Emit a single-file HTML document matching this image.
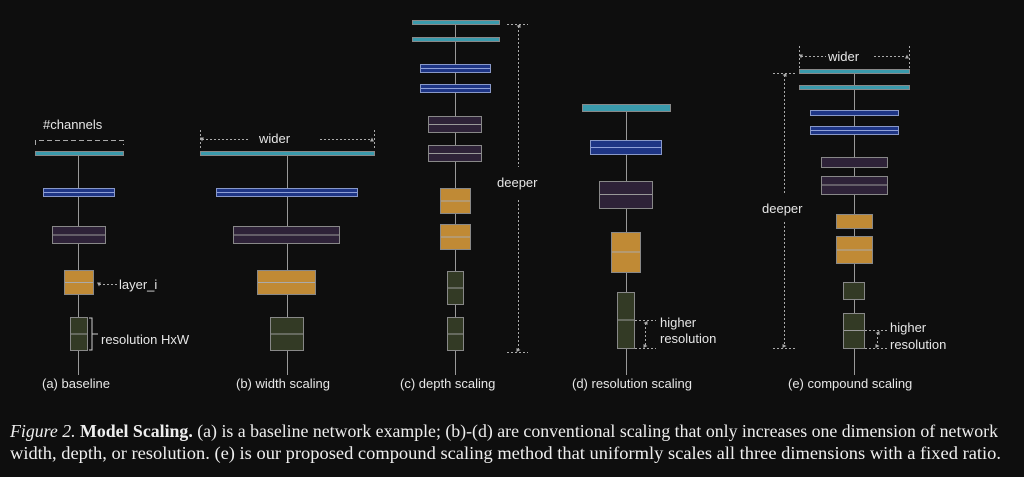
<!DOCTYPE html>
<html><head><meta charset="utf-8"><style>
html,body{margin:0;padding:0;background:#0e0e0e;width:1024px;height:477px;overflow:hidden}
svg{display:block}
.l{font-family:"Liberation Sans",sans-serif;font-size:13px;fill:#e6e6e6}
.c{font-family:"Liberation Serif",serif;font-size:17.5px;fill:#eeeeee}
</style></head><body>
<svg width="1024" height="477" viewBox="0 0 1024 477" xmlns="http://www.w3.org/2000/svg">
<defs>
<marker id="ah" viewBox="0 0 6 6" refX="3" refY="1" markerWidth="4" markerHeight="4" orient="auto-start-reverse"><path d="M0,6 L3,0 L6,6 z" fill="#aaa"/></marker>
<marker id="dh" viewBox="0 0 6 6" refX="3" refY="3" markerWidth="4" markerHeight="4" orient="auto-start-reverse"><path d="M0,6 L3,0 L6,6 z" fill="#aaa"/></marker>
</defs>
<g stroke="#999" stroke-width="1">
<!-- vertical spines -->
<line x1="78.5" y1="375" x2="78.5" y2="156"/>
<line x1="287.5" y1="375" x2="287.5" y2="156"/>
<line x1="455.5" y1="375" x2="455.5" y2="25"/>
<line x1="626.5" y1="375" x2="626.5" y2="111"/>
<line x1="854.5" y1="375" x2="854.5" y2="74"/>
</g>
<g stroke="#888" stroke-width="1">
<!-- (a) -->
<rect x="35.5" y="151.5" width="88" height="4" fill="#3a9aac"/>
<rect x="43.5" y="188.5" width="71" height="8" fill="#1e3585" stroke="#8898c8"/><line x1="44" y1="192.5" x2="114" y2="192.5" stroke="#8fa0d8"/>
<rect x="52.5" y="226.5" width="53" height="17" fill="#2e2238"/><line x1="53" y1="235" x2="105" y2="235" stroke="#999"/>
<rect x="64.5" y="270.5" width="29" height="24" fill="#c08a35"/><line x1="65" y1="282.5" x2="93" y2="282.5" stroke="#aaa"/>
<rect x="70.5" y="317.5" width="17" height="33" fill="#333a25"/><line x1="71" y1="334" x2="87" y2="334" stroke="#999"/>
<!-- (b) -->
<rect x="200.5" y="151.5" width="174" height="4" fill="#3a9aac"/>
<rect x="216.5" y="188.5" width="141" height="8" fill="#1e3585" stroke="#8898c8"/><line x1="217" y1="192.5" x2="357" y2="192.5" stroke="#8fa0d8"/>
<rect x="233.5" y="226.5" width="106" height="17" fill="#2e2238"/><line x1="234" y1="235" x2="339" y2="235" stroke="#999"/>
<rect x="257.5" y="270.5" width="58" height="24" fill="#c08a35"/><line x1="258" y1="282.5" x2="315" y2="282.5" stroke="#aaa"/>
<rect x="270.5" y="317.5" width="33" height="33" fill="#333a25"/><line x1="271" y1="334" x2="303" y2="334" stroke="#999"/>
<!-- (c) -->
<rect x="412.5" y="20.5" width="87" height="4" fill="#3a9aac"/>
<rect x="412.5" y="37.5" width="87" height="4" fill="#3a9aac"/>
<rect x="420.5" y="64.5" width="70" height="8" fill="#1e3585" stroke="#8898c8"/><line x1="421" y1="68.5" x2="490" y2="68.5" stroke="#8fa0d8"/>
<rect x="420.5" y="84.5" width="70" height="8" fill="#1e3585" stroke="#8898c8"/><line x1="421" y1="88.5" x2="490" y2="88.5" stroke="#8fa0d8"/>
<rect x="428.5" y="116.5" width="53" height="16" fill="#2e2238"/><line x1="429" y1="124.5" x2="481" y2="124.5" stroke="#999"/>
<rect x="428.5" y="145.5" width="53" height="16" fill="#2e2238"/><line x1="429" y1="153.5" x2="481" y2="153.5" stroke="#999"/>
<rect x="440.5" y="188.5" width="30" height="25" fill="#c08a35"/><line x1="441" y1="201" x2="470" y2="201" stroke="#aaa"/>
<rect x="440.5" y="224.5" width="30" height="25" fill="#c08a35"/><line x1="441" y1="237" x2="470" y2="237" stroke="#aaa"/>
<rect x="447.5" y="271.5" width="16" height="33" fill="#333a25"/><line x1="448" y1="288" x2="463" y2="288" stroke="#999"/>
<rect x="447.5" y="317.5" width="16" height="33" fill="#333a25"/><line x1="448" y1="334" x2="463" y2="334" stroke="#999"/>
<!-- (d) -->
<rect x="582.5" y="104.5" width="88" height="7" fill="#3a9aac"/>
<rect x="590.5" y="140.5" width="71" height="14" fill="#1e3585" stroke="#8898c8"/><line x1="591" y1="147.5" x2="661" y2="147.5" stroke="#8fa0d8"/>
<rect x="599.5" y="181.5" width="53" height="27" fill="#2e2238"/><line x1="600" y1="194.5" x2="652" y2="194.5" stroke="#999"/>
<rect x="611.5" y="232.5" width="29" height="40" fill="#c08a35"/><line x1="612" y1="252" x2="640" y2="252" stroke="#aaa"/>
<rect x="617.5" y="292.5" width="17" height="56" fill="#333a25"/><line x1="618" y1="320" x2="634" y2="320" stroke="#999"/>
<!-- (e) -->
<rect x="799.5" y="69.5" width="110" height="4" fill="#3a9aac"/>
<rect x="799.5" y="85.5" width="110" height="4" fill="#3a9aac"/>
<rect x="810.5" y="110.5" width="88" height="5" fill="#1e3585" stroke="#8898c8"/>
<rect x="810.5" y="126.5" width="88" height="8" fill="#1e3585" stroke="#8898c8"/><line x1="811" y1="130.5" x2="898" y2="130.5" stroke="#8fa0d8"/>
<rect x="821.5" y="157.5" width="66" height="10" fill="#2e2238"/>
<rect x="821.5" y="176.5" width="66" height="18" fill="#2e2238"/><line x1="822" y1="185" x2="887" y2="185" stroke="#999"/>
<rect x="836.5" y="214.5" width="36" height="14" fill="#c08a35"/>
<rect x="836.5" y="236.5" width="36" height="27" fill="#c08a35"/><line x1="837" y1="250" x2="872" y2="250" stroke="#aaa"/>
<rect x="843.5" y="282.5" width="21" height="17" fill="#333a25"/>
<rect x="843.5" y="313.5" width="21" height="35" fill="#333a25"/><line x1="844" y1="330.5" x2="864" y2="330.5" stroke="#999"/>
</g>
<!-- dashed annotations -->
<g stroke="#aaa" stroke-width="1" stroke-dasharray="2,2" fill="none">
<!-- a channels bracket -->
<path d="M35.5,145 V140.5 H123.5 V145" stroke-dasharray="5,3"/>
<!-- a layer_i -->
<line x1="99" y1="284.5" x2="117" y2="284.5" marker-start="url(#dh)"/>
<!-- b wider -->
<line x1="200.5" y1="130" x2="200.5" y2="150"/><line x1="374.5" y1="130" x2="374.5" y2="150"/>
<line x1="202" y1="139.5" x2="250" y2="139.5" marker-start="url(#dh)"/>
<line x1="320" y1="139.5" x2="372" y2="139.5" marker-end="url(#dh)"/>
<!-- c deeper -->
<line x1="507" y1="24.5" x2="528" y2="24.5"/><line x1="507" y1="352.5" x2="528" y2="352.5"/>
<line x1="518.5" y1="26" x2="518.5" y2="167" marker-start="url(#dh)"/>
<line x1="518.5" y1="200" x2="518.5" y2="350" marker-end="url(#dh)"/>
<!-- d higher res -->
<line x1="635" y1="320.5" x2="656" y2="320.5"/><line x1="635" y1="348.5" x2="656" y2="348.5"/>
<line x1="645.5" y1="323" x2="645.5" y2="346" marker-start="url(#dh)" marker-end="url(#dh)"/>
<!-- e wider -->
<line x1="799.5" y1="46" x2="799.5" y2="68"/><line x1="909.5" y1="46" x2="909.5" y2="68"/>
<line x1="801" y1="56.5" x2="826" y2="56.5" marker-start="url(#dh)"/>
<line x1="874" y1="56.5" x2="907" y2="56.5" marker-end="url(#dh)"/>
<!-- e deeper -->
<line x1="773" y1="73.5" x2="795" y2="73.5"/><line x1="773" y1="348.5" x2="795" y2="348.5"/>
<line x1="784.5" y1="75" x2="784.5" y2="194" marker-start="url(#dh)"/>
<line x1="784.5" y1="222" x2="784.5" y2="346" marker-end="url(#dh)"/>
<!-- e higher res -->
<line x1="865" y1="330.5" x2="889" y2="330.5"/><line x1="865" y1="348.5" x2="889" y2="348.5"/>
<line x1="877.5" y1="333" x2="877.5" y2="346" marker-start="url(#dh)" marker-end="url(#dh)"/>
</g>
<path d="M89,318 h3 v32 h-3 M92,334 h6" stroke="#ccc" fill="none"/>
<text class="l" x="43" y="129">#channels</text>
<text class="l" x="119" y="289">layer_i</text>
<text class="l" x="101" y="344">resolution HxW</text>
<text class="l" x="259" y="143">wider</text>
<text class="l" x="497" y="187">deeper</text>
<text class="l" x="660" y="327">higher</text>
<text class="l" x="660" y="343">resolution</text>
<text class="l" x="828" y="61">wider</text>
<text class="l" x="762" y="213">deeper</text>
<text class="l" x="890" y="332">higher</text>
<text class="l" x="890" y="349">resolution</text>
<text class="l" x="42" y="388">(a) baseline</text>
<text class="l" x="236" y="388">(b) width scaling</text>
<text class="l" x="400" y="388">(c) depth scaling</text>
<text class="l" x="572" y="388">(d) resolution scaling</text>
<text class="l" x="788" y="388">(e) compound scaling</text>
<text class="c" x="10" y="437" textLength="988" lengthAdjust="spacingAndGlyphs"><tspan font-style="italic">Figure 2.</tspan> <tspan font-weight="bold">Model Scaling.</tspan> (a) is a baseline network example; (b)-(d) are conventional scaling that only increases one dimension of network</text>
<text class="c" x="10" y="459" textLength="991" lengthAdjust="spacingAndGlyphs">width, depth, or resolution. (e) is our proposed compound scaling method that uniformly scales all three dimensions with a fixed ratio.</text>
</svg>
</body></html>
